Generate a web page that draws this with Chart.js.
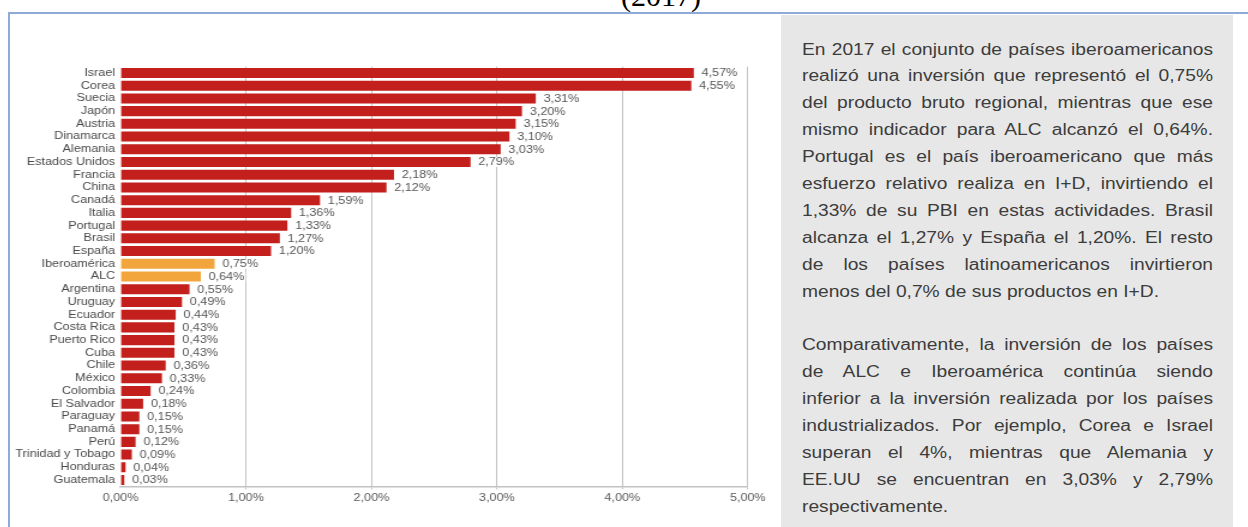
<!DOCTYPE html>
<html lang="es">
<head>
<meta charset="utf-8">
<title>Inversión en I+D como porcentaje del PBI (2017)</title>
<script src="https://cdn.jsdelivr.net/npm/chart.js@4.4.1/dist/chart.umd.min.js"></script>
<style>
  html, body { margin: 0; padding: 0; background: #fff; }
  body { width: 1248px; height: 527px; position: relative; overflow: hidden; }
  .title {
    position: absolute; left: 561px; width: 200px; top: -19px;
    text-align: center; font: 30px/30px "Liberation Serif", "Times New Roman", serif; color: #000;
  }
  .frame-top { position: absolute; left: 8px; right: 0; top: 12px; height: 2px; background: #8eaadb; }
  .frame-left { position: absolute; left: 8px; top: 12px; bottom: 0; width: 2px; background: #8eaadb; }
  .chart-wrap {
    position: absolute; left: 10px; top: 14px; width: 638px; height: 513px;
    transform: scaleX(1.2); transform-origin: 0 0;
  }
  .note {
    position: absolute; left: 781px; top: 15px; width: 452px; height: 530px; background: #e7e7e7;
  }
  .note-text {
    position: absolute; left: 802px; top: 36.5px; width: 342.5px;
    transform: scaleX(1.2); transform-origin: 0 0;
    font: 16px/26.9px "Liberation Sans", Arial, sans-serif; color: #3c3c3c;
  }
  .note-text div { text-align: justify; text-align-last: justify; }
  .note-text div.last { text-align-last: left; }
  .note-text .gap { height: 26.9px; }
</style>
</head>
<body>
<div class="title">(2017)</div>
<div class="frame-top"></div>
<div class="frame-left"></div>

<div class="chart-wrap"><canvas id="gastoChart"></canvas></div>

<div class="note"></div>
<div class="note-text">
  <div>En 2017 el conjunto de países iberoamericanos</div>
  <div>realizó una inversión que representó el 0,75%</div>
  <div>del producto bruto regional, mientras que ese</div>
  <div>mismo indicador para ALC alcanzó el 0,64%.</div>
  <div>Portugal es el país iberoamericano que más</div>
  <div>esfuerzo relativo realiza en I+D, invirtiendo el</div>
  <div>1,33% de su PBI en estas actividades. Brasil</div>
  <div>alcanza el 1,27% y España el 1,20%. El resto</div>
  <div>de los países latinoamericanos invirtieron</div>
  <div class="last">menos del 0,7% de sus productos en I+D.</div>
  <div class="gap"></div>
  <div>Comparativamente, la inversión de los países</div>
  <div>de ALC e Iberoamérica continúa siendo</div>
  <div>inferior a la inversión realizada por los países</div>
  <div>industrializados. Por ejemplo, Corea e Israel</div>
  <div>superan el 4%, mientras que Alemania y</div>
  <div>EE.UU se encuentran en 3,03% y 2,79%</div>
  <div class="last">respectivamente.</div>
</div>

<script>
// Gasto en I+D en relación al PBI, 2017
const paises = [
  "Israel", "Corea", "Suecia", "Japón", "Austria", "Dinamarca", "Alemania",
  "Estados Unidos", "Francia", "China", "Canadá", "Italia", "Portugal", "Brasil",
  "España", "Iberoamérica", "ALC", "Argentina", "Uruguay", "Ecuador", "Costa Rica",
  "Puerto Rico", "Cuba", "Chile", "México", "Colombia", "El Salvador", "Paraguay",
  "Panamá", "Perú", "Trinidad y Tobago", "Honduras", "Guatemala"
];
const gastoPBI = [
  4.57, 4.55, 3.31, 3.20, 3.15, 3.10, 3.03,
  2.79, 2.18, 2.12, 1.59, 1.36, 1.33, 1.27,
  1.20, 0.75, 0.64, 0.55, 0.49, 0.44, 0.43,
  0.43, 0.43, 0.36, 0.33, 0.24, 0.18, 0.15,
  0.15, 0.12, 0.09, 0.04, 0.03
];
// agregados regionales, en otro color
const agregados = ["Iberoamérica", "ALC"];
const ejeTicks = [0, 1, 2, 3, 4, 5];

const ROJO = "#c21f1d";
const NARANJA = "#f1a53c";
const FONT = "'Liberation Sans', Arial, sans-serif";

const pct = v => v.toFixed(2).replace(".", ",") + "%";

// etiquetas de valor a la derecha de cada barra
const valorLabels = {
  id: "valorLabels",
  afterDraw(chart) {
    const ctx = chart.ctx;
    const meta = chart.getDatasetMeta(0);
    ctx.save();
    ctx.font = "10.5px " + FONT;
    ctx.textBaseline = "middle";
    ctx.textAlign = "left";
    meta.data.forEach((bar, i) => {
      const txt = pct(gastoPBI[i]);
      const x = bar.x + 6.5;
      const w = ctx.measureText(txt).width;
      ctx.fillStyle = "#fff";
      ctx.fillRect(x - 1, bar.y - 5, w + 2, 10);
      ctx.fillStyle = "#575757";
      ctx.fillText(txt, x, bar.y + 0.5);
    });
    ctx.restore();
  }
};

new Chart(document.getElementById("gastoChart"), {
  type: "bar",
  data: {
    labels: paises,
    datasets: [{
      data: gastoPBI,
      backgroundColor: paises.map(p => agregados.includes(p) ? NARANJA : ROJO),
      borderWidth: 0,
      barPercentage: 0.79,
      categoryPercentage: 1
    }]
  },
  options: {
    indexAxis: "y",
    responsive: true,
    maintainAspectRatio: false,
    animation: false,
    layout: { padding: { top: 52.6, right: 23.2, left: 0, bottom: 0 } },
    plugins: {
      legend: { display: false },
      tooltip: { enabled: false }
    },
    scales: {
      x: {
        min: 0,
        max: 5,
        z: 1,
        afterBuildTicks: scale => { scale.ticks = ejeTicks.map(v => ({ value: v })); },
        afterFit: scale => { scale.height = 40.6; },
        grid: {
          color: ctx => ctx.tick && ctx.tick.value === 0 ? "rgba(0,0,0,0)" : "rgba(120,120,120,0.45)",
          lineWidth: 1,
          drawTicks: true,
          tickLength: 3
        },
        border: { display: true, color: "#c2c2c2", width: 1.5 },
        ticks: {
          padding: 2,
          color: "#5a5a5a",
          font: { family: FONT, size: 10.5 },
          callback: v => pct(v)
        }
      },
      y: {
        afterFit: scale => { scale.width = 92.1; },
        grid: { display: false, drawTicks: false },
        border: { display: false },
        ticks: {
          padding: 4.5,
          color: "#4a4a4a",
          autoSkip: false,
          font: { family: FONT, size: 10.5 }
        }
      }
    }
  },
  plugins: [valorLabels]
});
</script>
</body>
</html>
